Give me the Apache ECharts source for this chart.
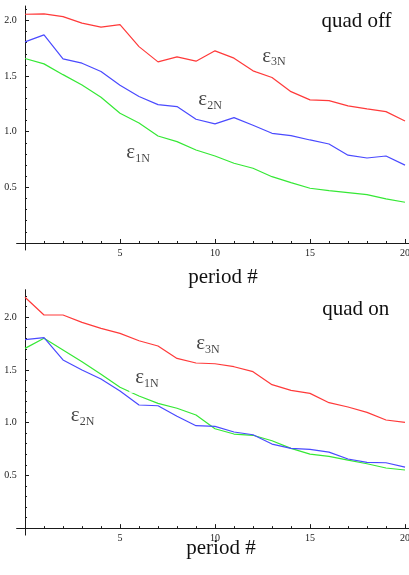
<!DOCTYPE html>
<html>
<head>
<meta charset="utf-8">
<script src="https://cdn.jsdelivr.net/npm/echarts@6/dist/echarts.min.js"></script>
<style>
  html, body { margin: 0; padding: 0; background: #fff; }
  #chart { width: 409px; height: 575px; }
</style>
</head>
<body>
<div id="chart"></div>
<script>
// Normalised emittances per period, with the quadrupole switched off and on.
const periods = [0, 1, 2, 3, 4, 5, 6, 7, 8, 9, 10, 11, 12, 13, 14, 15, 16, 17, 18, 19, 20];

const quadOffE1N = [1.658, 1.61, 1.513, 1.42, 1.31, 1.166, 1.079, 0.962, 0.911, 0.836, 0.782,
                    0.717, 0.672, 0.596, 0.542, 0.492, 0.47, 0.452, 0.434, 0.396, 0.366];
const quadOffE2N = [1.808, 1.871, 1.655, 1.616, 1.541, 1.418, 1.316, 1.244, 1.226, 1.112, 1.07,
                    1.127, 1.058, 0.986, 0.965, 0.926, 0.89, 0.789, 0.764, 0.782, 0.70];
const quadOffE3N = [2.056, 2.06, 2.035, 1.976, 1.94, 1.963, 1.765, 1.628, 1.673, 1.634, 1.727,
                    1.661, 1.547, 1.487, 1.36, 1.286, 1.28, 1.232, 1.205, 1.181, 1.097];

const quadOnE1N = [1.704, 1.799, 1.688, 1.577, 1.458, 1.335, 1.252, 1.183, 1.136, 1.072, 0.942,
                   0.892, 0.88, 0.828, 0.756, 0.702, 0.68, 0.645, 0.61, 0.57, 0.551];
const quadOnE2N = [1.786, 1.805, 1.594, 1.499, 1.413, 1.3, 1.167, 1.16, 1.06, 0.971, 0.965,
                   0.911, 0.885, 0.797, 0.756, 0.747, 0.721, 0.655, 0.624, 0.62, 0.579];
const quadOnE3N = [2.188, 2.02, 2.02, 1.95, 1.894, 1.846, 1.776, 1.726, 1.609, 1.565, 1.558,
                   1.53, 1.483, 1.36, 1.306, 1.277, 1.189, 1.148, 1.097, 1.025, 1.003];

// Tick positions and labels
const xMajorTicks = [5, 10, 15, 20];
const xMinorTicks = [1, 2, 3, 4, 6, 7, 8, 9, 11, 12, 13, 14, 16, 17, 18, 19];
const yMajorTicks = [0.5, 1.0, 1.5, 2.0];
const yMinorTicksOff = [0.1, 0.2, 0.3, 0.4, 0.6, 0.7, 0.8, 0.9, 1.1, 1.2, 1.3, 1.4, 1.6, 1.7, 1.8, 1.9, 2.1];
const yMinorTicksOn = [0.1, 0.2, 0.3, 0.4, 0.6, 0.7, 0.8, 0.9, 1.1, 1.2, 1.3, 1.4, 1.6, 1.7, 1.8, 1.9, 2.1, 2.2];

const xAxisTitle = 'period #';
const COLORS = { e1: '#35e835', e2: '#4a4aff', e3: '#ff3a3a' };
const SERIF = 'Liberation Serif';
const AXIS_COLOR = '#1a1a1a';

const panels = [
  {
    title: 'quad off', e1: quadOffE1N, e2: quadOffE2N, e3: quadOffE3N,
    yMin: -0.063, yMax: 2.13, top: 6, height: 244, yMinor: yMinorTicksOff,
    tags: [
      { sub: '3N', at: [13.1, 1.666] },
      { sub: '2N', at: [9.74, 1.277] },
      { sub: '1N', at: [5.95, 0.80] }
    ],
    titlePos: [356.5, 21.3], axisTitlePos: [223, 277]
  },
  {
    title: 'quad on', e1: quadOnE1N, e2: quadOnE2N, e3: quadOnE3N,
    yMin: -0.066, yMax: 2.26, top: 289.7, height: 245.4, yMinor: yMinorTicksOn,
    tags: [
      { sub: '3N', at: [9.63, 1.736] },
      { sub: '1N', at: [6.42, 1.41] },
      { sub: '2N', at: [3.03, 1.05] }
    ],
    titlePos: [355.8, 309.7], axisTitlePos: [221, 548]
  }
];

const X_MIN = -0.44, X_MAX = 20.3;
const GRID_LEFT = 16.64, GRID_WIDTH = 394.06;

const grid = [], xAxis = [], yAxis = [], series = [], graphic = [];

panels.forEach((p, i) => {
  const main = 2 * i, minor = 2 * i + 1;
  const rect = {
    left: GRID_LEFT, width: GRID_WIDTH, top: p.top, height: p.height,
    containLabel: false, outerBoundsMode: 'none'
  };
  grid.push(Object.assign({}, rect), Object.assign({}, rect));

  // main axes: axis line, major ticks, labels (labels are laid out from the grid edge,
  // so their margins are measured from there rather than from the zero line)
  xAxis.push({
    gridIndex: main, type: 'value', min: X_MIN, max: X_MAX,
    axisLine: { show: true, onZero: true, lineStyle: { color: AXIS_COLOR, width: 1 } },
    axisTick: { show: true, inside: true, length: 4, customValues: xMajorTicks, lineStyle: { color: AXIS_COLOR } },
    axisLabel: { show: true, customValues: xMajorTicks, margin: -2, fontFamily: SERIF, fontSize: 10, color: AXIS_COLOR },
    splitLine: { show: false }
  });
  yAxis.push({
    gridIndex: main, type: 'value', min: p.yMin, max: p.yMax,
    axisLine: { show: true, onZero: true, lineStyle: { color: AXIS_COLOR, width: 1 } },
    axisTick: { show: true, inside: true, length: 4, customValues: yMajorTicks, lineStyle: { color: AXIS_COLOR } },
    axisLabel: {
      show: true, customValues: yMajorTicks, margin: 0, fontFamily: SERIF, fontSize: 10, color: AXIS_COLOR,
      formatter: v => Number(v).toFixed(1)
    },
    splitLine: { show: false }
  });
  // companion axes carrying the minor ticks
  xAxis.push({
    gridIndex: minor, type: 'value', min: X_MIN, max: X_MAX,
    axisLine: { show: false, onZero: true },
    axisTick: { show: true, inside: true, length: 2, customValues: xMinorTicks, lineStyle: { color: AXIS_COLOR } },
    axisLabel: { show: false }, splitLine: { show: false }
  });
  yAxis.push({
    gridIndex: minor, type: 'value', min: p.yMin, max: p.yMax,
    axisLine: { show: false, onZero: true },
    axisTick: { show: true, inside: true, length: 2, customValues: p.yMinor, lineStyle: { color: AXIS_COLOR } },
    axisLabel: { show: false }, splitLine: { show: false }
  });

  [['e1', p.e1], ['e2', p.e2], ['e3', p.e3]].forEach(([key, values]) => {
    series.push({
      type: 'line', xAxisIndex: main, yAxisIndex: main, z: 2,
      data: periods.map((t, k) => [t, values[k]]),
      symbol: 'none', showSymbol: false, silent: true,
      lineStyle: { color: COLORS[key], width: 1.2 },
      itemStyle: { color: COLORS[key] }
    });
  });

  series.push({
    type: 'scatter', xAxisIndex: main, yAxisIndex: main, z: 5, silent: true,
    symbolSize: 0,
    data: p.tags.map(t => ({ value: t.at, label: { formatter: '{e|ε}{s|' + t.sub + '}' } })),
    label: {
      show: true, position: 'inside', backgroundColor: '#fff', padding: [0, 6, 3, 6],
      rich: {
        e: { fontFamily: SERIF, fontSize: 21, lineHeight: 24, color: '#111', verticalAlign: 'middle' },
        s: { fontFamily: SERIF, fontSize: 12, lineHeight: 14, color: '#111', verticalAlign: 'bottom' }
      }
    }
  });

  graphic.push({
    type: 'text', x: p.titlePos[0], y: p.titlePos[1], silent: true,
    style: { text: p.title, font: '21px "' + SERIF + '"', fill: '#111', textAlign: 'center', textVerticalAlign: 'middle' }
  });
  graphic.push({
    type: 'text', x: p.axisTitlePos[0], y: p.axisTitlePos[1], silent: true,
    style: { text: xAxisTitle, font: '21px "' + SERIF + '"', fill: '#111', textAlign: 'center', textVerticalAlign: 'middle' }
  });
});

const chart = echarts.init(document.getElementById('chart'), null, { renderer: 'canvas' });
chart.setOption({
  animation: false,
  backgroundColor: '#fff',
  grid, xAxis, yAxis, series, graphic
});
</script>
</body>
</html>
